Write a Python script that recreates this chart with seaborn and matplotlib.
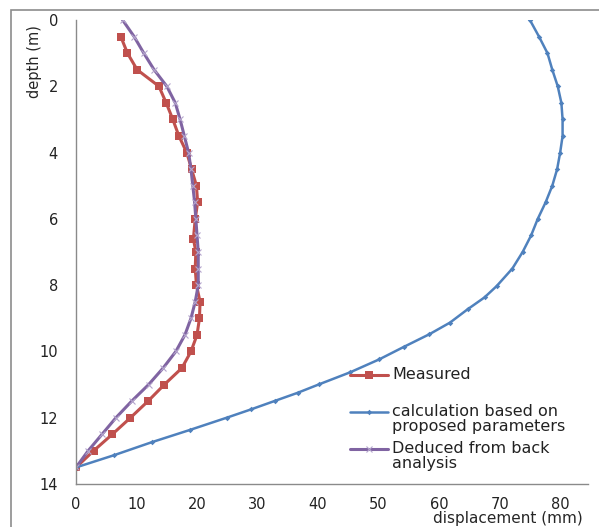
import numpy as np
import matplotlib
matplotlib.use("Agg")
import matplotlib.pyplot as plt
import seaborn as sns
from matplotlib.lines import Line2D

# Measured displacement profile (mm) vs depth (m)
measured_depth = [0.5, 1.0, 1.5, 2.0, 2.5, 3.0, 3.5, 4.0, 4.5, 5.0, 5.5, 6.0, 6.6, 7.0,
                  7.5, 8.0, 8.5, 9.0, 9.5, 10.0, 10.5, 11.0, 11.5, 12.0, 12.5, 13.0, 13.5]
measured_disp = [7.4, 8.5, 10.1, 13.7, 14.9, 16.0, 17.0, 18.3, 19.1, 19.9, 20.1, 19.7, 19.4, 19.8,
                 19.7, 19.9, 20.5, 20.4, 20.0, 19.0, 17.5, 14.6, 11.9, 9.0, 6.0, 2.9, 0.0]

# Calculation based on proposed parameters
calc_depth = [0.0, 0.5, 1.0, 1.5, 2.0, 2.5, 3.0, 3.5, 4.0, 4.5, 5.0, 5.5, 6.0, 6.5, 7.0, 7.5,
              8.03, 8.37, 8.73, 9.13, 9.48, 9.86, 10.24, 10.63, 10.99, 11.25, 11.49, 11.75,
              12.0, 12.37, 12.74, 13.13, 13.5]
calc_disp = [75.0, 76.5, 77.9, 78.7, 79.6, 80.2, 80.4, 80.4, 80.0, 79.5, 78.7, 77.6, 76.3, 75.2,
             73.8, 72.1, 69.5, 67.5, 64.7, 61.8, 58.4, 54.2, 50.1, 45.3, 40.2, 36.6, 32.9, 28.9,
             24.9, 18.8, 12.5, 6.3, 0.0]

# Deduced from back analysis
back_depth = [0.0, 0.5, 1.0, 1.5, 2.0, 2.5, 3.0, 3.5, 4.0, 4.5, 5.0, 5.5, 6.0, 6.5, 7.0,
              7.5, 8.0, 8.5, 9.0, 9.5, 10.0, 10.5, 11.0, 11.5, 12.0, 12.5, 13.0, 13.5]
back_disp = [7.7, 9.6, 11.2, 12.9, 15.0, 16.4, 17.2, 17.9, 18.6, 19.0, 19.3, 19.6, 19.8, 20.0,
             20.2, 20.2, 20.2, 19.7, 19.0, 18.0, 16.5, 14.4, 12.0, 9.2, 6.6, 4.3, 2.0, 0.0]

series_labels = ["Measured", "calculation based on\nproposed parameters", "Deduced from back\nanalysis"]
colors = ["#C0504D", "#4F81BD", "#8064A2"]

sns.set_style("white")
plt.rcParams["font.family"] = ["DejaVu Sans"]

fig = plt.figure(figsize=(5.99, 5.27), dpi=100)
ax = fig.add_axes([76 / 599, 1 - 484 / 527, (588 - 76) / 599, (484 - 20) / 527])

sns.lineplot(x=measured_disp, y=measured_depth, sort=False, estimator=None, ax=ax,
             color=colors[0], lw=2.2, marker="s", markersize=5.5, markeredgewidth=0)
sns.lineplot(x=calc_disp, y=calc_depth, sort=False, estimator=None, ax=ax,
             color=colors[1], lw=1.8, marker="D", markersize=2.8, markeredgewidth=0)
sns.lineplot(x=back_disp, y=back_depth, sort=False, estimator=None, ax=ax,
             color=colors[2], lw=2.2, marker="x", markersize=4, markeredgewidth=0.8,
             markeredgecolor="#b4a5cc")

ax.set_xlim(0, 84.6)
ax.set_ylim(14, 0)
ax.set_xticks(np.arange(0, 81, 10))
ax.set_yticks(np.arange(0, 15, 2))

for side in ["top", "right"]:
    ax.spines[side].set_visible(False)
for side in ["left", "bottom"]:
    ax.spines[side].set_color("#8a8a8a")
    ax.spines[side].set_linewidth(1.0)
ax.tick_params(axis="both", direction="out", length=5, width=1, color="#8a8a8a",
               labelsize=10.5, labelcolor="#222222", pad=4.5)
ax.tick_params(axis="y", pad=8)

ax.set_xlabel("displacement (mm)", fontsize=11, loc="right")
ax.xaxis.set_label_coords(0.99, -0.058)
ax.xaxis.label.set_va("top")
ax.set_ylabel("depth (m)", fontsize=10.5, loc="top")
ax.yaxis.set_label_coords(-0.066, 0.99)

# legend drawn in axes coordinates to keep Excel-like alignment
leg_rows = [0.235, 0.155, 0.075]
leg_markers = [("s", 5.5, 2.2), ("D", 2.8, 1.8), ("x", 4, 2.2)]
for lab, col, yy, (mk, ms, lw) in zip(series_labels, colors, leg_rows, leg_markers):
    ax.add_line(Line2D([0.535, 0.609], [yy, yy], transform=ax.transAxes, color=col, lw=lw))
    ax.add_line(Line2D([0.572], [yy], transform=ax.transAxes, color=col, marker=mk,
                       markersize=ms, markeredgewidth=0 if mk != "x" else 0.8,
                       markeredgecolor="#b4a5cc" if mk == "x" else col))
    ax.text(0.617, yy + 0.018, lab, transform=ax.transAxes, fontsize=11.5, va="top",
            ha="left", color="#222222", linespacing=1.05)

# outer chart frame (left and top edges visible)
fig.add_artist(plt.Rectangle((11 / 599, -0.05), 1.1, 1 - 10 / 527 + 0.05,
                             transform=fig.transFigure, fill=False,
                             edgecolor="#8c8c8c", lw=1.2, clip_on=False))

fig.savefig("out.png", dpi=100)
